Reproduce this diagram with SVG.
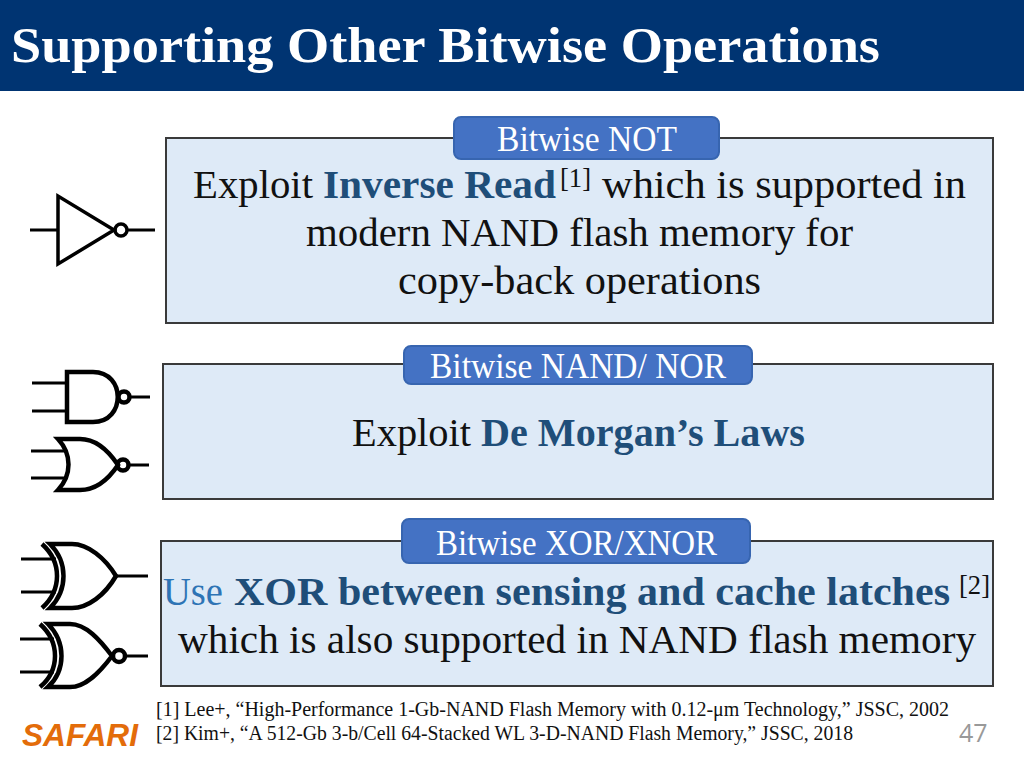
<svg xmlns="http://www.w3.org/2000/svg" width="1024" height="768" viewBox="0 0 1024 768">
<style>
text{font-family:"Liberation Serif","DejaVu Serif",serif;fill:#111}
.b{font-size:40px}
.em{font-weight:bold;fill:#1f4e79}
.s{font-size:28px}
.box{fill:#deeaf7;stroke:#3a3a3a;stroke-width:2}
.tab{fill:#4472c4;stroke:#3765b0;stroke-width:2}
.tl{font-size:35px;fill:#fff}
.g{fill:none;stroke:#000;stroke-width:4.500}
.g2{fill:none;stroke:#000;stroke-width:3.500}
.w{fill:none;stroke:#000;stroke-width:3}
.r{font-size:20px}
</style>
<rect width="1024" height="768" fill="#fff"/>
<g id="title"><rect width="1024" height="91" fill="#003472"/>
<text x="11" y="62" font-size="51" font-weight="bold" style="fill:#fff" textLength="869" lengthAdjust="spacingAndGlyphs">Supporting Other Bitwise Operations</text></g>

<g id="not-box"><rect class="box" x="166" y="138" width="827" height="185"/>
<text class="b" x="193" y="198" textLength="120" lengthAdjust="spacingAndGlyphs">Exploit</text>
<text class="b em" x="323" y="198" textLength="233" lengthAdjust="spacingAndGlyphs">Inverse Read</text>
<text class="s" x="560" y="187" textLength="31" lengthAdjust="spacingAndGlyphs">[1]</text>
<text class="b" x="602" y="198" textLength="364" lengthAdjust="spacingAndGlyphs">which is supported in</text>
<text class="b" x="306" y="246" textLength="547" lengthAdjust="spacingAndGlyphs">modern NAND flash memory for</text>
<text class="b" x="398" y="294" textLength="363" lengthAdjust="spacingAndGlyphs">copy-back operations</text></g>
<g id="not-tab"><rect class="tab" x="454" y="117" width="265" height="42" rx="7"/>
<text class="tl" x="497" y="151" textLength="180" lengthAdjust="spacingAndGlyphs">Bitwise NOT</text></g>

<g id="nand-box"><rect class="box" x="163" y="364" width="830" height="135"/>
<text class="b" x="352" y="446" textLength="119" lengthAdjust="spacingAndGlyphs">Exploit</text>
<text class="b em" x="481" y="446" textLength="324" lengthAdjust="spacingAndGlyphs">De Morgan’s Laws</text></g>
<g id="nand-tab"><rect class="tab" x="404" y="346" width="348" height="38" rx="7"/>
<text class="tl" x="430" y="378" textLength="296" lengthAdjust="spacingAndGlyphs">Bitwise NAND/ NOR</text></g>

<g id="xor-box"><rect class="box" x="161" y="541" width="832" height="145"/>
<text class="b" x="163" y="605" style="fill:#2e74b5" textLength="60" lengthAdjust="spacingAndGlyphs">Use</text>
<text class="b em" x="234" y="605" textLength="716" lengthAdjust="spacingAndGlyphs">XOR between sensing and cache latches</text>
<text class="s" x="959" y="594" textLength="31" lengthAdjust="spacingAndGlyphs">[2]</text>
<text class="b" x="178" y="653" textLength="798" lengthAdjust="spacingAndGlyphs">which is also supported in NAND flash memory</text></g>
<g id="xor-tab"><rect class="tab" x="402" y="519" width="348" height="44" rx="7"/>
<text class="tl" x="436" y="555" textLength="281" lengthAdjust="spacingAndGlyphs">Bitwise XOR/XNOR</text></g>

<g id="gate-not">
<path class="g2" d="M58 196V264L114 230Z"/><circle class="g2" cx="121" cy="230" r="6"/>
<path class="w" d="M30 230H58M127 230H155"/></g>
<g id="gate-nand">
<path class="g" d="M67 372H93C126 372 126 422 93 422H67Z"/><circle class="g" cx="124" cy="397" r="5.500"/>
<path class="w" d="M32 383H67M32 411H67M130 397H150"/></g>
<g id="gate-nor">
<path class="g" d="M58 439H80C95 439 108 450 118 465C108 480 95 490 80 490H58C72 475 72 454 58 439Z"/><circle class="g" cx="123" cy="465" r="5.500"/>
<path class="w" d="M31 451H67M31 478H67M129 465H149"/></g>
<g id="gate-xor">
<path class="g" d="M50 544H72C88 544 105 558 116 576C105 595 88 608 72 608H50C68 590 68 562 50 544Z"/>
<path class="g" d="M42 544C62 562 62 590 42 608"/>
<path class="w" d="M21 559H56M21 592H56M116 576H148"/></g>
<g id="gate-xnor">
<path class="g" d="M48 624H70C86 624 100 640 112 656C100 672 86 687 70 687H48C66 670 66 642 48 624Z"/>
<path class="g" d="M40 624C60 642 60 670 40 687"/><circle class="g" cx="119" cy="656" r="6"/>
<path class="w" d="M20 639H54M20 672H54M126 656H148"/></g>

<g id="footer">
<text class="r" x="156" y="716" textLength="793" lengthAdjust="spacingAndGlyphs">[1] Lee+, “High-Performance 1-Gb-NAND Flash Memory with 0.12-μm Technology,” JSSC, 2002</text>
<text class="r" x="156" y="740" textLength="697" lengthAdjust="spacingAndGlyphs">[2] Kim+, “A 512-Gb 3-b/Cell 64-Stacked WL 3-D-NAND Flash Memory,” JSSC, 2018</text>
<text x="22" y="746" font-size="31" font-weight="bold" font-style="italic" style="font-family:'Liberation Sans',sans-serif;fill:#e36c0a" textLength="116" lengthAdjust="spacingAndGlyphs">SAFARI</text>
<text x="959" y="742" font-size="25" style="font-family:'Open Sans',sans-serif;fill:#999">47</text></g>
</svg>
